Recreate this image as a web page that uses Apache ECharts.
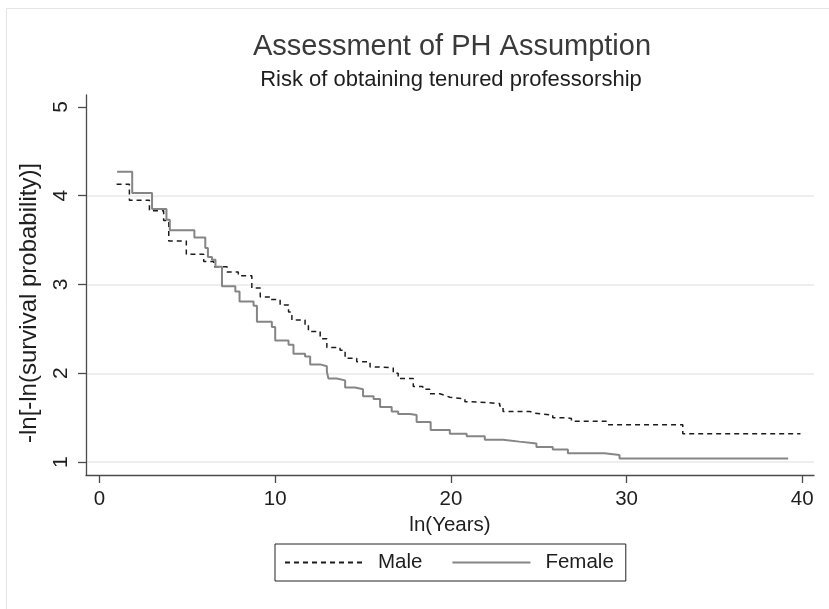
<!DOCTYPE html>
<html>
<head>
<meta charset="utf-8">
<script src="https://cdn.jsdelivr.net/npm/echarts@6/dist/echarts.min.js"></script>
<style>
  html, body { margin: 0; padding: 0; background: #fff; }
  #chart { width: 829px; height: 609px; }
</style>
</head>
<body>
<div id="chart"></div>
<script>
// step points: value holds from x until the next x
const maleX = [0.97, 1.70, 2.84, 3.65, 3.94, 4.94, 5.93, 6.5, 7.26, 7.9, 8.67, 9.15, 9.72, 10.28, 10.76, 10.95, 11.7, 11.89, 12.56, 12.94, 13.69, 13.98, 14.64, 15.4, 16.06, 16.72, 17.0, 17.86, 18.4, 18.8, 19.37, 19.66, 19.94, 20.8, 21.08, 22.78, 22.97, 24.5, 24.77, 25.8, 26.57, 26.86, 28.84, 28.9, 33.2, 39.9]
const maleY = [4.13, 3.95, 3.83, 3.72, 3.49, 3.34, 3.26, 3.20, 3.14, 3.10, 2.96, 2.86, 2.83, 2.77, 2.69, 2.60, 2.54, 2.47, 2.39, 2.29, 2.26, 2.17, 2.13, 2.07, 2.06, 2.00, 1.94, 1.85, 1.82, 1.77, 1.75, 1.73, 1.71, 1.68, 1.66, 1.63, 1.57, 1.55, 1.53, 1.50, 1.49, 1.46, 1.44, 1.42, 1.32, 1.32]

const femaleX = [1.0, 1.86, 2.99, 3.81, 4.0, 5.4, 6.02, 6.17, 6.4, 6.6, 6.97, 7.73, 7.97, 8.77, 8.96, 9.81, 10.0, 10.76, 11.04, 11.7, 11.99, 12.56, 12.94, 13.03, 13.5, 13.98, 14.55, 15.0, 15.6, 15.97, 16.63, 17.0, 17.67, 18.05, 18.85, 19.94, 20.9, 21.93, 22.97, 23.9, 24.87, 25.8, 26.66, 28.75, 29.6, 39.2]
const femaleY = [4.27, 4.03, 3.85, 3.73, 3.61, 3.53, 3.41, 3.31, 3.28, 3.20, 2.98, 2.92, 2.81, 2.76, 2.58, 2.52, 2.37, 2.32, 2.22, 2.19, 2.10, 2.08, 2.02, 1.94, 1.92, 1.84, 1.82, 1.74, 1.71, 1.62, 1.57, 1.54, 1.53, 1.45, 1.36, 1.32, 1.29, 1.25, 1.23, 1.21, 1.17, 1.14, 1.10, 1.08, 1.04, 1.04]

const xTicks = [0, 10, 20, 30, 40]
const yTicks = [1, 2, 3, 4, 5]

const font = 'Liberation Sans, Arial, Helvetica, sans-serif'

const chart = echarts.init(document.getElementById('chart'))

const toPairs = (xs, ys) => xs.map((x, i) => [x, ys[i]])

const option = {
  backgroundColor: '#fff',
  animation: false,
  graphic: [
    {
      type: 'rect',
      left: 4,
      top: 6,
      shape: { width: 840, height: 620 },
      style: { fill: 'none', stroke: '#e4e4e4', lineWidth: 1 }
    }
  ],
  title: [
    {
      text: 'Assessment of PH Assumption',
      left: 452,
      top: 32,
      textAlign: 'center',
      padding: 0,
      textStyle: { fontFamily: font, fontSize: 29, fontWeight: 'normal', color: '#3a3a3a' }
    },
    {
      text: 'Risk of obtaining tenured professorship',
      left: 451,
      top: 69,
      textAlign: 'center',
      padding: 0,
      textStyle: { fontFamily: font, fontSize: 22, fontWeight: 'normal', color: '#1e1e1e' }
    }
  ],
  legend: {
    left: 275,
    top: 544,
    itemWidth: 78,
    itemHeight: 12,
    itemGap: 29,
    padding: [8, 12, 8, 9],
    borderColor: '#222',
    borderWidth: 1,
    borderRadius: 0,
    itemStyle: { opacity: 0 },
    textStyle: { fontFamily: font, fontSize: 20.5, color: '#1e1e1e', padding: [0, 0, 0, 10] },
    data: ['Male', 'Female']
  },
  grid: {
    left: 86,
    right: 15,
    top: 95,
    bottom: 134,
    containLabel: false
  },
  xAxis: {
    type: 'value',
    min: -0.77,
    max: 40.67,
    name: 'ln(Years)',
    nameLocation: 'middle',
    nameGap: 35,
    nameTextStyle: { fontFamily: font, fontSize: 20.5, color: '#1e1e1e' },
    axisLine: { show: true, onZero: false, lineStyle: { color: '#4a4a4a', width: 1.3 } },
    axisTick: { show: true, length: 8, customValues: xTicks, lineStyle: { color: '#4a4a4a', width: 1.3 } },
    axisLabel: { customValues: xTicks, margin: 14, fontFamily: font, fontSize: 20.5, color: '#1e1e1e' },
    splitLine: { show: false }
  },
  yAxis: {
    type: 'value',
    min: 0.854,
    max: 5.135,
    name: '-ln[-ln(survival probability)]',
    nameLocation: 'middle',
    nameGap: 45,
    nameRotate: 90,
    nameTextStyle: { fontFamily: font, fontSize: 24, color: '#1e1e1e', padding: [0, 36, 0, 0] },
    axisLine: { show: true, onZero: false, lineStyle: { color: '#4a4a4a', width: 1.3 } },
    axisTick: { show: true, length: 8, customValues: yTicks, lineStyle: { color: '#4a4a4a', width: 1.3 } },
    axisLabel: { customValues: yTicks, rotate: 90, margin: 14, fontFamily: font, fontSize: 21, color: '#1e1e1e' },
    splitLine: { show: true, lineStyle: { color: ['#e8e8e8', '#e8e8e8', '#e8e8e8', '#e8e8e8', 'rgba(0,0,0,0)'], width: 1.5 } }
  },
  series: [
    {
      name: 'Male',
      type: 'line',
      step: 'end',
      symbol: 'none',
      data: toPairs(maleX, maleY),
      itemStyle: { color: '#1c1c1c' },
      lineStyle: { color: '#1c1c1c', width: 1.5, type: [5, 4] }
    },
    {
      name: 'Female',
      type: 'line',
      step: 'end',
      symbol: 'none',
      data: toPairs(femaleX, femaleY),
      itemStyle: { color: '#858585' },
      lineStyle: { color: '#858585', width: 2 }
    }
  ]
}

chart.setOption(option)
</script>
</body>
</html>
